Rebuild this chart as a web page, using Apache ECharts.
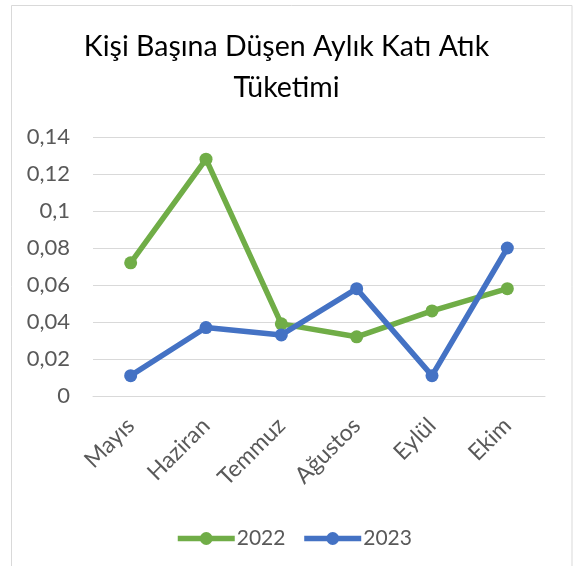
<!DOCTYPE html>
<html><head><meta charset="utf-8">
<script src="https://cdn.jsdelivr.net/npm/echarts@6/dist/echarts.min.js"></script>
<style>html,body{margin:0;padding:0;background:#fff}#c{width:573px;height:566px}</style>
</head><body><div id="c"></div>
<script>
const categories = ['Mayıs', 'Haziran', 'Temmuz', 'Ağustos', 'Eylül', 'Ekim'];
const values2022 = [0.072, 0.128, 0.039, 0.032, 0.046, 0.058];
const values2023 = [0.011, 0.037, 0.033, 0.058, 0.011, 0.080];
const seriesNames = ['2022', '2023'];
const titleText = 'Kişi Başına Düşen Aylık Katı Atık\nTüketimi';

const FONT = 'Lato, "Open Sans", sans-serif';
const chart = echarts.init(document.getElementById('c'), null, {renderer: 'canvas'});
function mk(name, data, color) {
  return {
    name, type: 'line', data,
    symbol: 'circle', symbolSize: 13,
    lineStyle: {color, width: 5.5},
    itemStyle: {color},
    emphasis: {disabled: true},
    animation: false
  };
}
chart.setOption({
  animation: false,
  backgroundColor: '#fff',
  graphic: [{
    type: 'rect', silent: true, z: -1,
    shape: {x: 11.5, y: 5.5, width: 560.5, height: 620},
    style: {fill: 'none', stroke: '#d9d9d9', lineWidth: 1}
  }],
  title: {
    text: titleText, left: 'center', top: 26, padding: [0, 0, 0, 14],
    textStyle: {fontFamily: FONT, fontSize: 28.5, fontWeight: 'normal', color: '#000', lineHeight: 41}
  },
  grid: {left: 93, right: 28, top: 137, bottom: 170, containLabel: false, outerBoundsMode: 'none'},
  legend: {
    data: seriesNames, bottom: 17, left: 175, padding: 0,
    itemWidth: 57, itemHeight: 16, itemGap: 16,
    lineStyle: {width: 5.5},
    textStyle: {fontFamily: FONT, fontSize: 21, color: '#595959', padding: [0, 0, 0, -3]}
  },
  xAxis: {
    type: 'category', data: categories, boundaryGap: true,
    axisLine: {lineStyle: {color: '#d9d9d9', width: 1}},
    axisTick: {show: false},
    axisLabel: {rotate: 45, margin: 26, fontFamily: FONT, fontSize: 23, color: '#595959'}
  },
  yAxis: {
    type: 'value', min: 0, max: 0.14, interval: 0.02,
    axisLine: {show: false}, axisTick: {show: false},
    splitLine: {lineStyle: {color: '#d9d9d9', width: 1}},
    axisLabel: {
      margin: 23, fontFamily: FONT, fontSize: 22, color: '#595959',
      formatter: v => String(+(+v).toFixed(2)).replace('.', ',')
    }
  },
  series: [mk(seriesNames[0], values2022, '#70ad47'), mk(seriesNames[1], values2023, '#4472c4')]
});
</script></body></html>
